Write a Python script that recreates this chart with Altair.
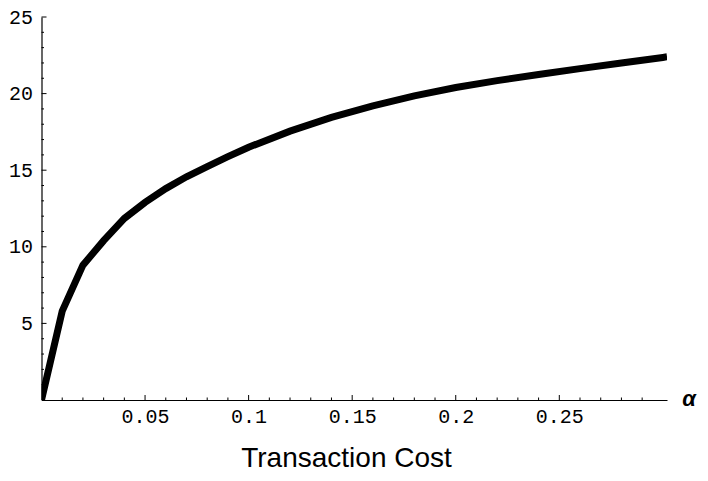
import altair as alt
import pandas as pd

# Curve values
alpha = [0, 0.01, 0.02, 0.03, 0.04, 0.05, 0.06, 0.07, 0.08, 0.09, 0.10,
         0.12, 0.14, 0.16, 0.18, 0.20, 0.22, 0.24, 0.26, 0.28, 0.30, 0.302]
value = [0, 5.8, 8.8, 10.4, 11.85, 12.9, 13.8, 14.57, 15.23, 15.88, 16.5,
         17.55, 18.45, 19.2, 19.85, 20.4, 20.85, 21.25, 21.63, 22.0, 22.36, 22.4]

x_major = [0.05, 0.10, 0.15, 0.20, 0.25]
x_minor = [round(i * 0.01, 2) for i in range(1, 31) if i % 5 != 0]
y_major = [5, 10, 15, 20, 25]
y_minor = [i for i in range(1, 25) if i % 5 != 0]

W, H = 625.5, 383
XMAX, YMAX = 0.302, 25

df = pd.DataFrame({"a": alpha, "v": value})

xs = alt.Scale(domain=[0, XMAX], nice=False, zero=False)
ys = alt.Scale(domain=[0, YMAX], nice=False, zero=False)

line = alt.Chart(df).mark_line(color="black", strokeWidth=7, strokeCap="butt",
                               clip=True).encode(
    x=alt.X("a:Q", scale=xs, axis=alt.Axis(
        values=x_major, format="~g", ticks=False, grid=False, domain=True,
        domainColor="black", domainWidth=1.2,
        labelFont="Liberation Mono", labelFontSize=20, labelColor="black",
        labelPadding=6, labelFlush=False,
        title="Transaction Cost", titleFont="Liberation Sans", titleFontSize=28,
        titleFontWeight="normal", titleColor="black",
        titleX=304.5, titleY=66, titleAlign="center", titleBaseline="alphabetic")),
    y=alt.Y("v:Q", scale=ys, axis=alt.Axis(
        values=y_major, ticks=False, grid=False, domain=True,
        domainColor="black", domainWidth=1.2,
        labelFont="Liberation Mono", labelFontSize=20, labelColor="black",
        labelPadding=9, labelFlush=False, title=None)),
)

xmaj = alt.Chart(pd.DataFrame({"t": x_major})).mark_rule(
    color="black", strokeWidth=1, y2Offset=-5).encode(
    x=alt.X("t:Q", scale=xs), y=alt.datum(0), y2=alt.datum(0))
xmin = alt.Chart(pd.DataFrame({"t": x_minor})).mark_rule(
    color="black", strokeWidth=1, y2Offset=-2.5).encode(
    x=alt.X("t:Q", scale=xs), y=alt.datum(0), y2=alt.datum(0))
ymaj = alt.Chart(pd.DataFrame({"t": y_major})).mark_rule(
    color="black", strokeWidth=1, x2Offset=5).encode(
    y=alt.Y("t:Q", scale=ys), x=alt.datum(0), x2=alt.datum(0))
ymin = alt.Chart(pd.DataFrame({"t": y_minor})).mark_rule(
    color="black", strokeWidth=1, x2Offset=2.5).encode(
    y=alt.Y("t:Q", scale=ys), x=alt.datum(0), x2=alt.datum(0))

alpha_lbl = alt.Chart(pd.DataFrame({"a": [XMAX], "v": [0], "s": ["α"]})).mark_text(
    font="Liberation Sans", fontSize=22, fontWeight="bold", fontStyle="italic",
    color="black", align="center", baseline="middle", dx=22, dy=-1).encode(
    x=alt.X("a:Q", scale=xs), y=alt.Y("v:Q", scale=ys), text="s:N")

chart = alt.layer(xmin, xmaj, ymin, ymaj, line, alpha_lbl).properties(
    width=W, height=H,
    autosize=alt.AutoSizeParams(type="none"),
    padding={"left": 33.5, "top": 9, "right": 33, "bottom": 73},
    background="white",
).configure_view(stroke=None)

chart.save("out.html", embed_options={"renderer": "svg", "actions": False})
